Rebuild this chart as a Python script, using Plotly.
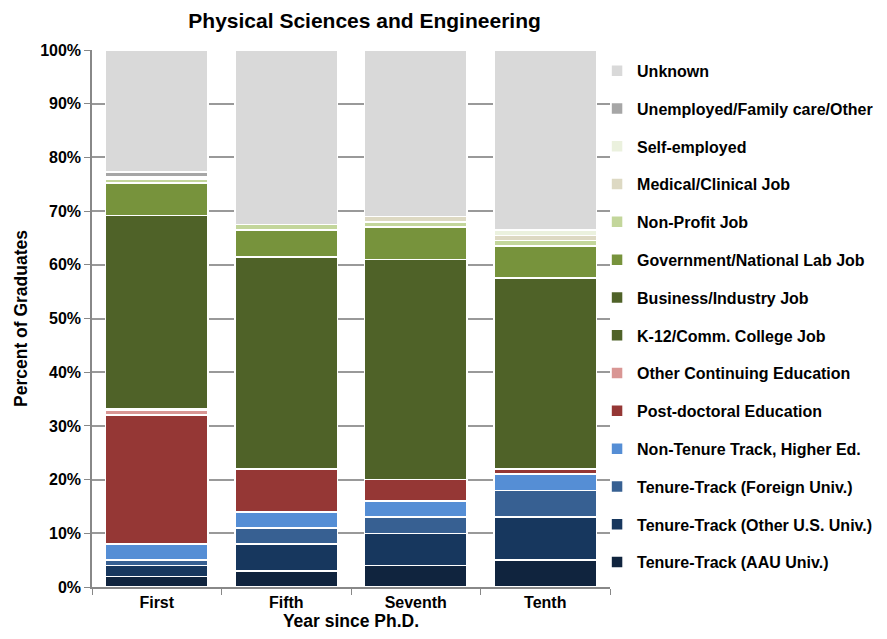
import plotly.graph_objects as go

years = ["First", "Fifth", "Seventh", "Tenth"]

tt_aau = [2.0, 3.0, 4.0, 5.0]
tt_other_us = [2.0, 5.0, 6.0, 8.0]
tt_foreign = [1.0, 3.0, 3.0, 5.0]
non_tenure = [3.0, 3.0, 3.0, 3.0]
postdoc = [24.0, 8.0, 4.0, 1.0]
other_cont_ed = [1.0, 0.0, 0.0, 0.0]
k12 = [0.2, 0.0, 0.0, 0.0]
business = [36.0, 39.5, 41.0, 35.5]
government = [6.0, 5.0, 6.0, 6.0]
non_profit = [0.8, 1.0, 1.0, 1.0]
medical = [0.2, 0.0, 1.0, 1.0]
self_employed = [0.2, 0.0, 0.0, 1.0]
unemployed = [0.9, 0.0, 0.0, 0.0]
unknown = [22.7, 32.5, 31.0, 33.5]

series = [
    ("Tenure-Track (AAU Univ.)", tt_aau, "#10243E"),
    ("Tenure-Track (Other U.S. Univ.)", tt_other_us, "#17375E"),
    ("Tenure-Track (Foreign Univ.)", tt_foreign, "#376092"),
    ("Non-Tenure Track, Higher Ed.", non_tenure, "#558ED5"),
    ("Post-doctoral Education", postdoc, "#953735"),
    ("Other Continuing Education", other_cont_ed, "#D99694"),
    ("K-12/Comm. College Job", k12, "#4F6228"),
    ("Business/Industry Job", business, "#4F6228"),
    ("Government/National Lab Job", government, "#77933C"),
    ("Non-Profit Job", non_profit, "#C3D69B"),
    ("Medical/Clinical Job", medical, "#DDD9C3"),
    ("Self-employed", self_employed, "#EBF1DE"),
    ("Unemployed/Family care/Other", unemployed, "#A6A6A6"),
    ("Unknown", unknown, "#D9D9D9"),
]

FONT = "Arial, Liberation Sans, sans-serif"

fig = go.Figure()
for i, (name, vals, col) in enumerate(series):
    fig.add_trace(go.Bar(
        x=years, y=vals, name=name, legendgroup=f"g{i}", legendrank=1000 - i,
        marker=dict(color=col, line=dict(color="white", width=1.5)),
    ))

fig.update_layout(
    barmode="stack",
    bargap=0.21,
    width=887, height=639,
    paper_bgcolor="white", plot_bgcolor="white",
    margin=dict(l=82, r=285, t=42, b=60),
    font=dict(family=FONT, size=15, color="black"),
    title=dict(text="<b>Physical Sciences and Engineering</b>", x=0.402,
               xanchor="center", y=0.98, yanchor="middle", font=dict(size=21)),
    legend=dict(
        x=0.975, y=0.993, xanchor="left", yanchor="top",
        bgcolor="rgba(0,0,0,0)",
        traceorder="grouped", tracegroupgap=14,
        font=dict(size=16, family=FONT, weight="bold"),
        itemwidth=30,
    ),
    xaxis=dict(
        title=dict(text="<b>Year since Ph.D.</b>", standoff=3, font=dict(size=17.5)),
        tickfont=dict(size=16),
        showline=True, linecolor="#888", linewidth=1.5,
        ticks="outside", tickson="boundaries", ticklen=6, tickcolor="#888",
        tickprefix="<b>", ticksuffix="</b>",
    ),
    yaxis=dict(
        title=dict(text="<b>Percent of Graduates</b>", standoff=8, font=dict(size=17.5)),
        range=[0, 100], dtick=10, ticksuffix="%</b>", tickprefix="<b>",
        tickfont=dict(size=16),
        showline=True, linecolor="#888", linewidth=1.5,
        ticks="outside", ticklen=6, tickcolor="#888",
        showgrid=True, gridcolor="#999", gridwidth=2,
        zeroline=False,
    ),
)

fig.write_html("out.html")
